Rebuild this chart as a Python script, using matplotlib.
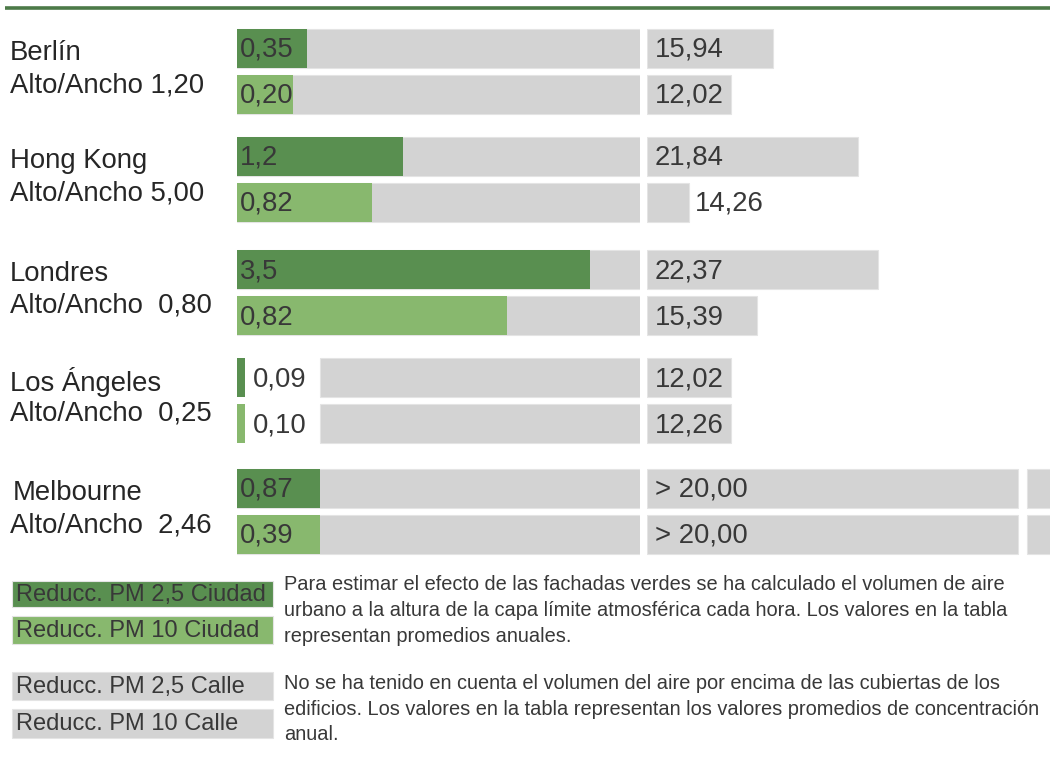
import matplotlib.pyplot as plt
from matplotlib.patches import Rectangle

plt.rcParams["font.family"] = ["Liberation Sans", "DejaVu Sans"]

# Data
cities = ["Berlín", "Hong Kong", "Londres", "Los Ángeles", "Melbourne"]
ratios = ["Alto/Ancho 1,20", "Alto/Ancho 5,00", "Alto/Ancho  0,80",
          "Alto/Ancho  0,25", "Alto/Ancho  2,46"]

# reduction in the city (left panel)
pm25_city = ["0,35", "1,2", "3,5", "0,09", "0,87"]
pm10_city = ["0,20", "0,82", "0,82", "0,10", "0,39"]
# drawn bar lengths as they appear in the picture (panel width = 403)
pm25_city_len = [70, 166, 353, 8, 83]
pm10_city_len = [56, 135, 270, 8, 83]

# concentration in the street (right panel)
pm25_street = ["15,94", "21,84", "22,37", "12,02", "> 20,00"]
pm10_street = ["12,02", "14,26", "15,39", "12,26", "> 20,00"]
pm25_street_len = [126, 211, 231, 84, 371]
pm10_street_len = [84, 42, 110, 84, 371]
street_broken = [False, False, False, False, True]

legend_labels = ["Reducc. PM 2,5 Ciudad", "Reducc. PM 10 Ciudad",
                 "Reducc. PM 2,5 Calle", "Reducc. PM 10 Calle"]
note_city = ("Para estimar el efecto de las fachadas verdes se ha calculado el volumen de aire\n"
             "urbano a la altura de la capa límite atmosférica cada hora. Los valores en la tabla\n"
             "representan promedios anuales.")
note_street = ("No se ha tenido en cuenta el volumen del aire por encima de las cubiertas de los\n"
               "edificios. Los valores en la tabla representan los valores promedios de concentración\n"
               "anual.")

# Styles
DARK = "#598f50"
LIGHT = "#88b86e"
GREY = "#d3d3d3"
TXT = "#383838"
LINE = "#4c7a48"
W, H = 1050, 768
PANEL = 403
BAR_H = 39
FS = 19.8
GROUP_Y = [48, 156, 269, 377, 488]  # layout: row centre of each city group

fig = plt.figure(figsize=(W / 100, H / 100), dpi=100)


def px_axes(x0, width):
    ax = fig.add_axes([x0 / W, 0, width / W, 1])
    ax.set_xlim(0, PANEL)
    ax.set_ylim(H, 0)
    ax.axis("off")
    return ax


base = fig.add_axes([0, 0, 1, 1])
base.set_xlim(0, W)
base.set_ylim(H, 0)
base.axis("off")

ax_l = px_axes(237, PANEL)
ax_r = px_axes(647, PANEL)

# top rule
base.plot([5, W], [8, 8], color=LINE, lw=2.6, solid_capstyle="butt")

for i, city in enumerate(cities):
    y1 = GROUP_Y[i]
    y2 = y1 + 46

    base.text(10 if i < 4 else 13, y1 + 5, city, fontsize=FS, color="#262626",
              va="center", ha="left")
    base.text(10, y1 + 37, ratios[i], fontsize=FS, color="#262626",
              va="center", ha="left")

    # left panel
    for y, lab, ln, col in [(y1, pm25_city[i], pm25_city_len[i], DARK),
                            (y2, pm10_city[i], pm10_city_len[i], LIGHT)]:
        if ln >= 30:
            ax_l.barh(y, PANEL, height=BAR_H, color=GREY, edgecolor="#e4e4e4", lw=0.8)
            ax_l.barh(y, ln, height=BAR_H, color=col, edgecolor="none")
            ax_l.text(3, y + 2, lab, fontsize=FS, color=TXT, va="center", ha="left")
        else:
            ax_l.barh(y, ln, height=BAR_H, color=col, edgecolor="none")
            ax_l.text(ln + 8, y + 2, lab, fontsize=FS, color=TXT, va="center", ha="left")
            ax_l.barh(y, PANEL - 83, left=83, height=BAR_H, color=GREY,
                      edgecolor="#e4e4e4", lw=0.8)

    # right panel
    for y, lab, ln in [(y1, pm25_street[i], pm25_street_len[i]),
                       (y2, pm10_street[i], pm10_street_len[i])]:
        ax_r.barh(y, ln, height=BAR_H, color=GREY, edgecolor="#e4e4e4", lw=0.8)
        if ln >= 60:
            ax_r.text(8, y + 2, lab, fontsize=FS, color=TXT, va="center", ha="left")
        else:
            ax_r.text(ln + 6, y + 2, lab, fontsize=FS, color=TXT, va="center", ha="left")
        if street_broken[i]:
            ax_r.barh(y, PANEL, left=ln + 9, height=BAR_H, color=GREY,
                      edgecolor="#e4e4e4", lw=0.8)

# legend boxes
boxes = [(581, 26, DARK), (616, 28, LIGHT), (672, 28, GREY), (709, 29, GREY)]
for (top, h, col), lab in zip(boxes, legend_labels):
    base.add_patch(Rectangle((12, top), 261, h, facecolor=col,
                             edgecolor="#e4e4e4", lw=0.8))
    base.text(16, top + h / 2 + 1, lab, fontsize=17, color=TXT,
              va="center", ha="left")

base.text(284, 575, note_city, fontsize=14.4, color=TXT, va="top", ha="left",
          linespacing=1.45)
base.text(284, 674, note_street, fontsize=14.4, color=TXT, va="top", ha="left",
          linespacing=1.45)

fig.savefig("out.png", dpi=100)
